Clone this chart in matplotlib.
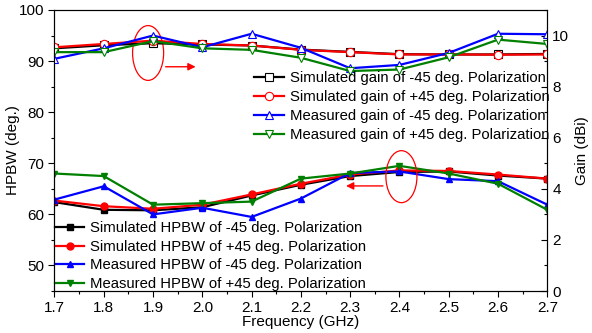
import matplotlib
matplotlib.use("Agg")
import matplotlib.pyplot as plt
from matplotlib.patches import Ellipse, FancyArrowPatch
from matplotlib.ticker import MultipleLocator

plt.rcParams['font.family'] = ['Liberation Sans', 'DejaVu Sans']

freq = [1.7, 1.8, 1.9, 2.0, 2.1, 2.2, 2.3, 2.4, 2.5, 2.6, 2.7]

# HPBW (deg.), left axis
hpbw_sim_m45 = [62.4, 60.9, 60.8, 61.4, 63.7, 65.8, 67.5, 68.3, 68.4, 67.6, 67.0]
hpbw_sim_p45 = [62.7, 61.6, 61.1, 61.9, 63.9, 66.0, 67.8, 68.6, 68.5, 67.8, 67.0]
hpbw_meas_m45 = [62.9, 65.5, 60.0, 61.3, 59.5, 63.1, 68.1, 68.4, 66.9, 66.5, 61.9]
hpbw_meas_p45 = [68.0, 67.5, 61.9, 62.2, 62.5, 67.0, 68.0, 69.5, 68.0, 66.0, 60.9]

# Gain (dBi), right axis
gain_sim_m45 = [9.50, 9.62, 9.70, 9.65, 9.61, 9.45, 9.36, 9.27, 9.26, 9.26, 9.28]
gain_sim_p45 = [9.54, 9.67, 9.80, 9.67, 9.61, 9.44, 9.35, 9.26, 9.26, 9.25, 9.26]
gain_meas_m45 = [9.09, 9.50, 10.00, 9.54, 10.07, 9.52, 8.72, 8.85, 9.32, 10.07, 10.05]
gain_meas_p45 = [9.35, 9.35, 9.78, 9.50, 9.44, 9.13, 8.61, 8.67, 9.15, 9.84, 9.67]

hpbw_labels = ["Simulated HPBW of -45 deg. Polarization",
               "Simulated HPBW of +45 deg. Polarization",
               "Measured HPBW of -45 deg. Polarization",
               "Measured HPBW of +45 deg. Polarization"]
gain_labels = ["Simulated gain of -45 deg. Polarization",
               "Simulated gain of +45 deg. Polarization",
               "Measured gain of -45 deg. Polarization",
               "Measured gain of +45 deg. Polarization"]

colors = ["black", "red", "blue", "#008000"]
markers = ["s", "o", "^", "v"]

fig = plt.figure(figsize=(5.92, 3.33), dpi=100)
ax = fig.add_axes([0.092, 0.126, 0.8325, 0.844])
ax2 = ax.twinx()

hp = [hpbw_sim_m45, hpbw_sim_p45, hpbw_meas_m45, hpbw_meas_p45]
gn = [gain_sim_m45, gain_sim_p45, gain_meas_m45, gain_meas_p45]

h1 = []
for d, c, m, l in zip(hp, colors, markers, hpbw_labels):
    ln, = ax.plot(freq, d, color=c, marker=m, markersize=5, lw=1.6,
                  markerfacecolor=c, markeredgecolor=c, label=l)
    h1.append(ln)
h2 = []
for d, c, m, l in zip(gn, colors, markers, gain_labels):
    ln, = ax2.plot(freq, d, color=c, marker=m, markersize=6, lw=1.6,
                   markerfacecolor="white", markeredgecolor=c,
                   markeredgewidth=0.8, label=l)
    h2.append(ln)

ax.set_xlim(1.7, 2.7)
ax.set_ylim(45, 100)
ax2.set_ylim(0, 11)
ax.xaxis.set_minor_locator(MultipleLocator(0.05))
ax.yaxis.set_minor_locator(MultipleLocator(5))
ax2.yaxis.set_major_locator(MultipleLocator(2))
ax2.yaxis.set_minor_locator(MultipleLocator(1))
ax.set_xticks(freq)
ax.set_xticklabels([f"{f:.1f}" for f in freq])
ax.set_yticks([50, 60, 70, 80, 90, 100])

ax.tick_params(axis='both', which='major', direction='out', length=4, labelsize=11, width=0.8)
ax.tick_params(axis='both', which='minor', direction='out', length=2, width=0.8)
ax2.tick_params(axis='y', which='major', direction='in', length=4, labelsize=11, width=0.8)
ax2.tick_params(axis='y', which='minor', direction='in', length=2, width=0.8)

ax.set_xlabel("Frequency (GHz)", fontsize=11, labelpad=0)
ax.set_ylabel("HPBW (deg.)", fontsize=11, labelpad=-1)
ax2.set_ylabel("Gain (dBi)", fontsize=11, labelpad=4)

leg1 = ax.legend(handles=h1, loc='lower left', bbox_to_anchor=(0.0, 0.0),
                 frameon=False, fontsize=10.7, handlelength=2.0, handletextpad=0.4,
                 labelspacing=0.30, borderaxespad=0.0, borderpad=0.02)
leg2 = ax2.legend(handles=h2, loc='upper right', bbox_to_anchor=(1.005, 0.782),
                  frameon=False, fontsize=10.7, handlelength=2.0, handletextpad=0.4,
                  labelspacing=0.34, borderaxespad=0.0, borderpad=0.0)

ax2.add_patch(Ellipse((0.190, 0.847), 0.063, 0.195, transform=ax.transAxes,
                      fill=False, edgecolor='red', lw=0.9))
ax2.add_patch(FancyArrowPatch((0.220, 0.798), (0.292, 0.798), transform=ax.transAxes,
                              arrowstyle='-|>', mutation_scale=11, color='red', lw=1.0))
ax2.add_patch(Ellipse((0.704, 0.407), 0.063, 0.185, transform=ax.transAxes,
                      fill=False, edgecolor='red', lw=0.9))
ax2.add_patch(FancyArrowPatch((0.672, 0.374), (0.586, 0.374), transform=ax.transAxes,
                              arrowstyle='-|>', mutation_scale=11, color='red', lw=1.0))

fig.savefig("out.png", dpi=100)
